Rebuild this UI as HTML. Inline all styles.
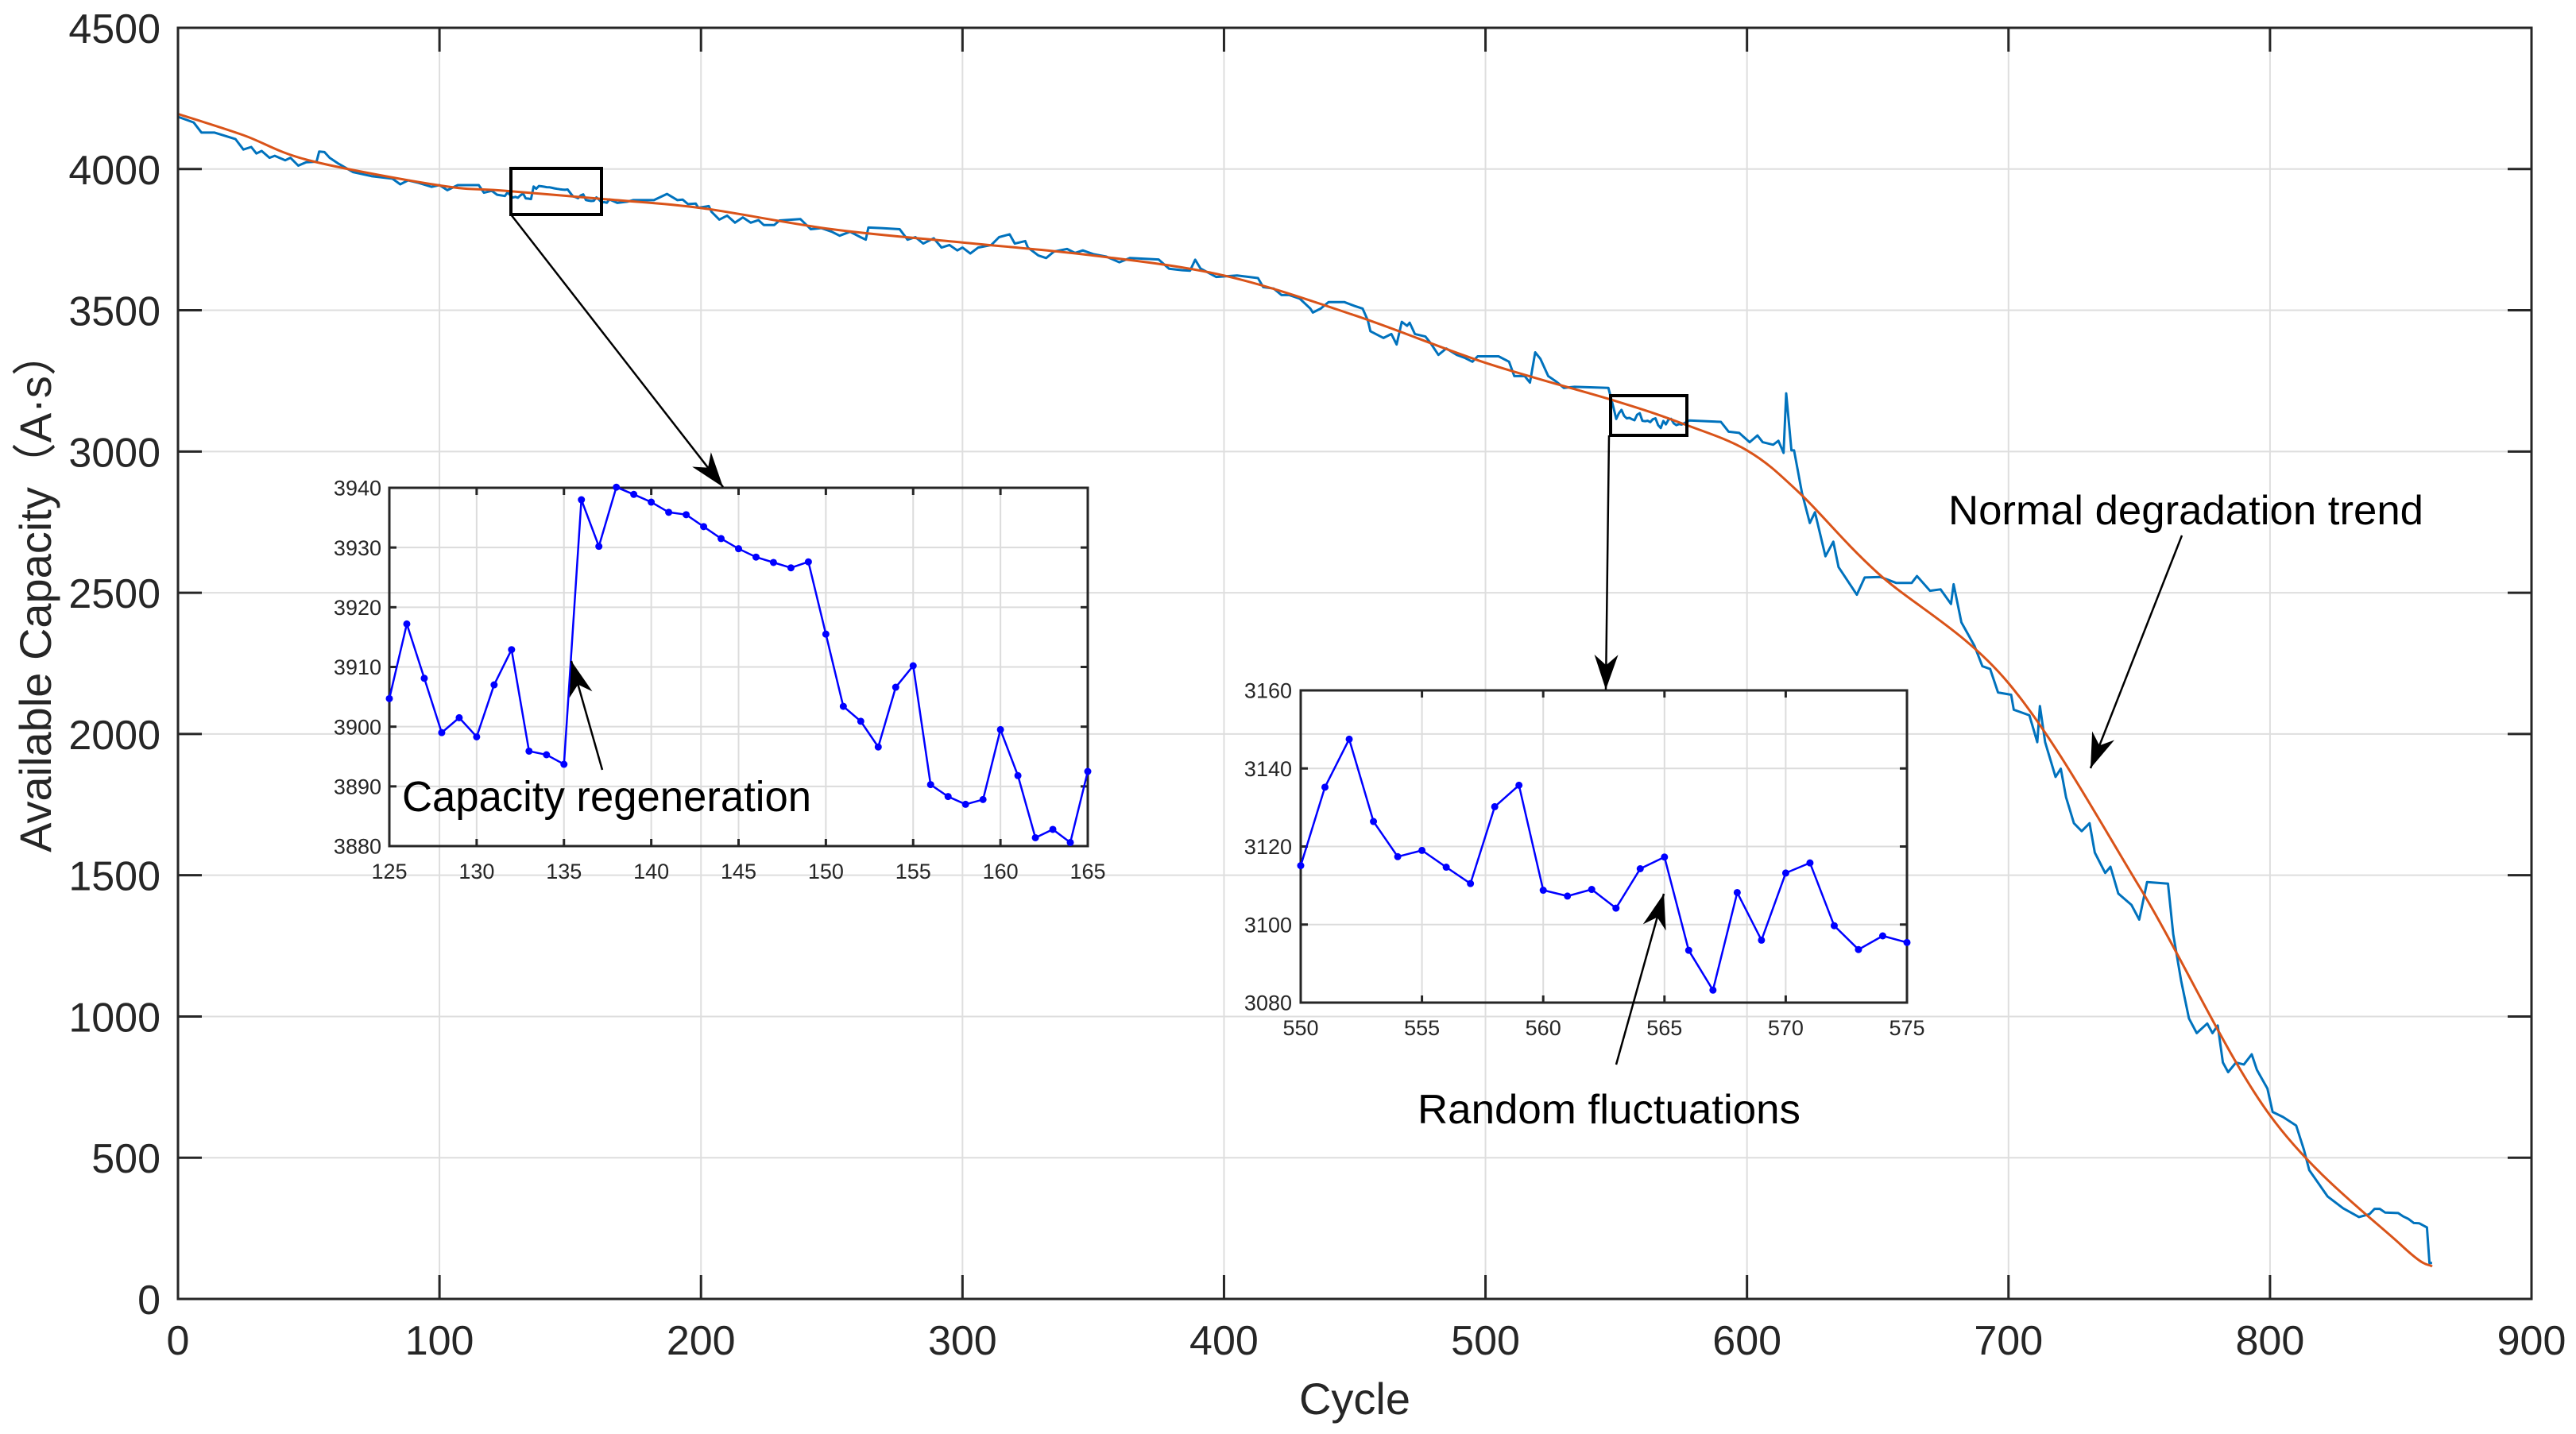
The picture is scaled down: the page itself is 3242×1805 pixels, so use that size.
<!DOCTYPE html>
<html><head><meta charset="utf-8"><style>
html,body{margin:0;padding:0;background:#fff;}
svg{display:block;font-family:"Liberation Sans",Arial,sans-serif;}
</style></head><body>
<svg id="chart" width="3242" height="1805" viewBox="0 0 3242 1805" xmlns="http://www.w3.org/2000/svg">
<rect x="0" y="0" width="3242" height="1805" fill="#fff"/>
<g id="grid"></g>
<g id="series"></g>
<g id="axes"></g>
<g id="inset1"></g>
<g id="inset2"></g>
<g id="annot"></g>
</svg>
<script>
const mainCycles=[0,6,9,14,22,25,28,30,32,35,37,41,43,46,49,53,54,56,58,61,67,74,82,85,88,92,97,100,103,107,115,117,120,122,
125,126,127,128,129,130,131,132,133,134,135,136,137,138,139,140,141,142,143,144,145,146,147,148,149,150,151,152,153,154,155,156,157,158,159,160,161,162,163,164,165,
168,172,174,182,187,191,193,195,198,199,203,204,207,210,213,216,219,222,224,228,230,238,242,246,250,253,257,261,263,264,269,276,279,282,285,289,292,295,298,300,303,306,311,314,318,320,324,325,329,332,335,340,343,346,350,355,360,364,375,379,384,387,389,391,397,405,413,415,419,422,425,429,433,434,437,440,446,450,453,455,456,461,464,466,468,470,471,473,477,479,482,485,489,492,495,497,505,509,511,515,517,519,521,524,527,530,534,547,549,
550,551,552,553,554,555,556,557,558,559,560,561,562,563,564,565,566,567,568,569,570,571,572,573,574,575,
578,590,593,597,601,604,606,610,612,614,615,617,618,621,624,626,630,633,635,642,645,651,657,663,665,670,674,678,679,682,687,690,693,696,701,702,708,711,712,714,718,720,722,725,728,731,733,737,739,742,747,750,753,761,763,766,769,772,776,778,780,782,784,787,790,793,795,799,801,805,810,813,815,822,828,834,838,840,842,844,849,851,853,855,857,860,861,862];
const mainValues=[4185,4165,4129,4129,4106,4069,4078,4055,4064,4040,4047,4031,4040,4012,4024,4026,4062,4060,4040,4021,3989,3975,3966,3946,3960,3951,3937,3943,3925,3943,3943,3916,3923,3909,
3904.7,3917.2,3908.1,3899.0,3901.5,3898.3,3907.0,3912.9,3895.9,3895.3,3893.7,3938.0,3930.2,3940.1,3938.9,3937.6,3935.9,3935.5,3933.5,3931.5,3929.8,3928.4,3927.5,3926.6,3927.6,3915.5,3903.4,3900.9,3896.6,3906.6,3910.2,3890.3,3888.3,3887.0,3887.8,3899.5,3891.8,3881.4,3882.8,3880.6,3892.5,
3880,3885,3890,3890,3912,3890,3892,3876,3878,3863,3869,3849,3821,3835,3810,3829,3810,3819,3802,3802,3818,3823,3787,3791,3778,3764,3778,3759,3750,3793,3791,3787,3750,3759,3736,3755,3722,3731,3712,3722,3701,3722,3731,3759,3769,3736,3745,3722,3694,3685,3708,3717,3703,3712,3699,3690,3670,3685,3680,3647,3642,3640,3679,3648,3618,3623,3614,3582,3577,3554,3554,3541,3506,3492,3506,3529,3529,3515,3506,3464,3426,3402,3416,3379,3459,3445,3456,3416,3407,3384,3342,3365,3342,3332,3318,3337,3337,3318,3267,3267,3244,3351,3328,3267,3248,3225,3229,3225,3154,
3115.1,3135.2,3147.5,3126.4,3117.4,3119.0,3114.7,3110.5,3130.2,3135.7,3108.8,3107.3,3109.0,3104.2,3114.3,3117.3,3093.4,3083.2,3108.2,3096.0,3113.2,3115.8,3099.7,3093.6,3097.1,3095.4,
3110,3105,3070,3066,3033,3057,3033,3024,3038,2995,3206,3004,3004,2854,2747,2785,2629,2681,2591,2493,2554,2556,2535,2535,2559,2507,2512,2460,2530,2395,2312,2240,2230,2147,2139,2086,2066,1971,2099,1971,1848,1877,1776,1684,1656,1684,1580,1508,1530,1435,1395,1343,1476,1470,1291,1127,993,941,975,941,968,837,803,837,830,866,811,745,662,644,614,527,456,363,321,290,300,319,319,306,304,292,283,269,268,253,127,127];
const trendCycles=[0,25,50,100,125,165,200,250,300,350,400,450,500,550,575,600,620,650,700,750,800,850,862];
const trendValues=[4195,4120,4031,3942,3923,3892,3862,3787,3740,3694,3623,3482,3314,3178,3100,3004,2854,2570,2180,1460,650,192,115];
const xTicks=[0,100,200,300,400,500,600,700,800,900];
const yTicks=[0,500,1000,1500,2000,2500,3000,3500,4000,4500];
const in1Cycles=[125,126,127,128,129,130,131,132,133,134,135,136,137,138,139,140,141,142,143,144,145,146,147,148,149,150,151,152,153,154,155,156,157,158,159,160,161,162,163,164,165];
const in1Values=[3904.7,3917.2,3908.1,3899.0,3901.5,3898.3,3907.0,3912.9,3895.9,3895.3,3893.7,3938.0,3930.2,3940.1,3938.9,3937.6,3935.9,3935.5,3933.5,3931.5,3929.8,3928.4,3927.5,3926.6,3927.6,3915.5,3903.4,3900.9,3896.6,3906.6,3910.2,3890.3,3888.3,3887.0,3887.8,3899.5,3891.8,3881.4,3882.8,3880.6,3892.5];
const in1XTicks=[125,130,135,140,145,150,155,160,165];
const in1YTicks=[3880,3890,3900,3910,3920,3930,3940];
const in2Cycles=[550,551,552,553,554,555,556,557,558,559,560,561,562,563,564,565,566,567,568,569,570,571,572,573,574,575];
const in2Values=[3115.1,3135.2,3147.5,3126.4,3117.4,3119.0,3114.7,3110.5,3130.2,3135.7,3108.8,3107.3,3109.0,3104.2,3114.3,3117.3,3093.4,3083.2,3108.2,3096.0,3113.2,3115.8,3099.7,3093.6,3097.1,3095.4];
const in2XTicks=[550,555,560,565,570,575];
const in2YTicks=[3080,3100,3120,3140,3160];

const NS='http://www.w3.org/2000/svg';
function mk(tag,attrs,parent,text){const e=document.createElementNS(NS,tag);for(const k in attrs)e.setAttribute(k,attrs[k]);if(text!==undefined)e.textContent=text;parent.appendChild(e);return e;}
const L=224,R=3186,T=35,B=1635;
const sx=c=>L+(c-0)/(900-0)*(R-L);
const sy=v=>B-(v-0)/(4500-0)*(B-T);
const grid=document.getElementById('grid'),axes=document.getElementById('axes'),series=document.getElementById('series');
xTicks.forEach(t=>{
 const x=sx(t);
 if(t>0&&t<900){const g=mk('line',{x1:x,y1:T,x2:x,y2:B,stroke:'#dedede','stroke-width':2},grid);
 }
 const a=mk('line',{x1:x,y1:B,x2:x,y2:B-30,stroke:'#262626','stroke-width':3},axes);
 
 const b=mk('line',{x1:x,y1:T,x2:x,y2:T+30,stroke:'#262626','stroke-width':3},axes);
 
 const lb=mk('text',{x:x,y:1705,'text-anchor':'middle','font-size':52,fill:'#262626'},axes,String(t));
 
});
yTicks.forEach(t=>{
 const y=sy(t);
 if(t>0&&t<4500){const g=mk('line',{x1:L,y1:y,x2:R,y2:y,stroke:'#dedede','stroke-width':2},grid);
 }
 const a=mk('line',{x1:L,y1:y,x2:L+30,y2:y,stroke:'#262626','stroke-width':3},axes);
 
 const b=mk('line',{x1:R,y1:y,x2:R-30,y2:y,stroke:'#262626','stroke-width':3},axes);
 
 const lb=mk('text',{x:202,y:y+19,'text-anchor':'end','font-size':52,fill:'#262626'},axes,String(t));
 
});
const frame=mk('rect',{x:L,y:T,width:R-L,height:B-T,fill:'none',stroke:'#262626','stroke-width':3},axes);

const xt=mk('text',{x:(L+R)/2,y:1780,'text-anchor':'middle','font-size':56,fill:'#262626'},axes,'Cycle');

const yt=mk('text',{x:0,y:0,'text-anchor':'middle','font-size':56,fill:'#262626',transform:'translate(64,745) rotate(-90)',style:'font-family:"Liberation Sans","Noto Sans CJK SC",sans-serif'},axes,'Available Capacity（A·s）');


const bp=mk('polyline',{points:mainCycles.map((c,i)=>sx(c).toFixed(1)+','+sy(mainValues[i]).toFixed(1)).join(' '),fill:'none',stroke:'#0072BD','stroke-width':3,'stroke-linejoin':'round'},series);

// smooth trend via Catmull-Rom
const tp=trendCycles.map((c,i)=>[sx(c),sy(trendValues[i])]);
let d='M'+tp[0][0]+','+tp[0][1];
for(let i=0;i<tp.length-1;i++){const p0=tp[Math.max(0,i-1)],p1=tp[i],p2=tp[i+1],p3=tp[Math.min(tp.length-1,i+2)];
 d+=` C${p1[0]+(p2[0]-p0[0])/6},${p1[1]+(p2[1]-p0[1])/6} ${p2[0]-(p3[0]-p1[0])/6},${p2[1]-(p3[1]-p1[1])/6} ${p2[0]},${p2[1]}`;}
const tr=mk('path',{d:d,fill:'none',stroke:'#D95319','stroke-width':3},series);


function inset(gid,name,x0,x1,y0,y1,px0,px1,py0,py1,xt,yt,cs,vs,ylabX,xlabY,fs){
 const g=document.getElementById(gid);
 
 const ix=c=>px0+(c-x0)/(x1-x0)*(px1-px0), iy=v=>py1-(v-y0)/(y1-y0)*(py1-py0);
 xt.forEach(t=>{const x=ix(t);
  if(t>x0&&t<x1){const l=mk('line',{x1:x,y1:py0,x2:x,y2:py1,stroke:'#dcdcdc','stroke-width':2},g);}
  const a=mk('line',{x1:x,y1:py1,x2:x,y2:py1-9,stroke:'#262626','stroke-width':3},g);
  const b=mk('line',{x1:x,y1:py0,x2:x,y2:py0+9,stroke:'#262626','stroke-width':3},g);
  const lb=mk('text',{x:x,y:xlabY,'text-anchor':'middle','font-size':fs,fill:'#262626'},g,String(t));});
 yt.forEach(t=>{const y=iy(t);
  if(t>y0&&t<y1){const l=mk('line',{x1:px0,y1:y,x2:px1,y2:y,stroke:'#dcdcdc','stroke-width':2},g);}
  const a=mk('line',{x1:px0,y1:y,x2:px0+9,y2:y,stroke:'#262626','stroke-width':3},g);
  const b=mk('line',{x1:px1,y1:y,x2:px1-9,y2:y,stroke:'#262626','stroke-width':3},g);
  const lb=mk('text',{x:ylabX,y:y+fs*0.36,'text-anchor':'end','font-size':fs,fill:'#262626'},g,String(t));});
 const fr=mk('rect',{x:px0,y:py0,width:px1-px0,height:py1-py0,fill:'none',stroke:'#262626','stroke-width':3},g);
 
 const pl=mk('polyline',{points:cs.map((c,i)=>ix(c).toFixed(1)+','+iy(vs[i]).toFixed(1)).join(' '),fill:'none',stroke:'#0000ff','stroke-width':2.5},g);
 
 cs.forEach((c,i)=>{const m=mk('circle',{cx:ix(c),cy:iy(vs[i]),r:4.5,fill:'#0000ff'},g);
  });
}
inset('inset1','inset-capacity-regeneration',125,165,3880,3940,490,1369,614,1065,in1XTicks,in1YTicks,in1Cycles,in1Values,480,1106,27);
inset('inset2','inset-random-fluctuations',550,575,3080,3160,1637,2400,869,1262,in2XTicks,in2YTicks,in2Cycles,in2Values,1626,1303,27);
</script>
<g></g>
<script>
const an=document.getElementById('annot');
function ln(x1,y1,x2,y2,name,w){const l=mk('line',{x1:x1,y1:y1,x2:x2,y2:y2,stroke:'#000','stroke-width':w||2.5},an);}
function head(x1,y1,x2,y2,name){const a=Math.atan2(y2-y1,x2-x1),len=44,wd=15;
 const bx=x2-len*Math.cos(a),by=y2-len*Math.sin(a),nx=-Math.sin(a),ny=Math.cos(a);
 const mx=x2-len*0.7*Math.cos(a),my=y2-len*0.7*Math.sin(a);
 const p=mk('polygon',{points:`${x2},${y2} ${bx+nx*wd},${by+ny*wd} ${mx},${my} ${bx-nx*wd},${by-ny*wd}`,fill:'#000'},an);
 }
const r1=mk('rect',{x:643,y:212,width:114,height:58,fill:'none',stroke:'#000','stroke-width':4},an);

const r2=mk('rect',{x:2027,y:498,width:96,height:50,fill:'none',stroke:'#000','stroke-width':4},an);

ln(643,270,910,613,'zoom-connector-1');head(643,270,910,613,'zoom-arrowhead-1');
ln(2025,548,2021,868,'zoom-connector-2');head(2025,548,2021,868,'zoom-arrowhead-2');
ln(758,969,719,832,'regeneration-arrow');head(758,969,719,832,'regeneration-arrowhead');
ln(2034,1340,2094,1125,'fluctuation-arrow');head(2034,1340,2094,1125,'fluctuation-arrowhead');
ln(2746,674,2631,967,'trend-arrow');head(2746,674,2631,967,'trend-arrowhead');
const t1=mk('text',{x:506,y:1021,'font-size':54,fill:'#000',textLength:515,lengthAdjust:'spacingAndGlyphs'},an,'Capacity regeneration');

const t2=mk('text',{x:1784,y:1414,'font-size':52,fill:'#000',textLength:482,lengthAdjust:'spacingAndGlyphs'},an,'Random fluctuations');

const t3=mk('text',{x:2452,y:660,'font-size':52,fill:'#000',textLength:598,lengthAdjust:'spacingAndGlyphs'},an,'Normal degradation trend');

</script>
</body></html>
